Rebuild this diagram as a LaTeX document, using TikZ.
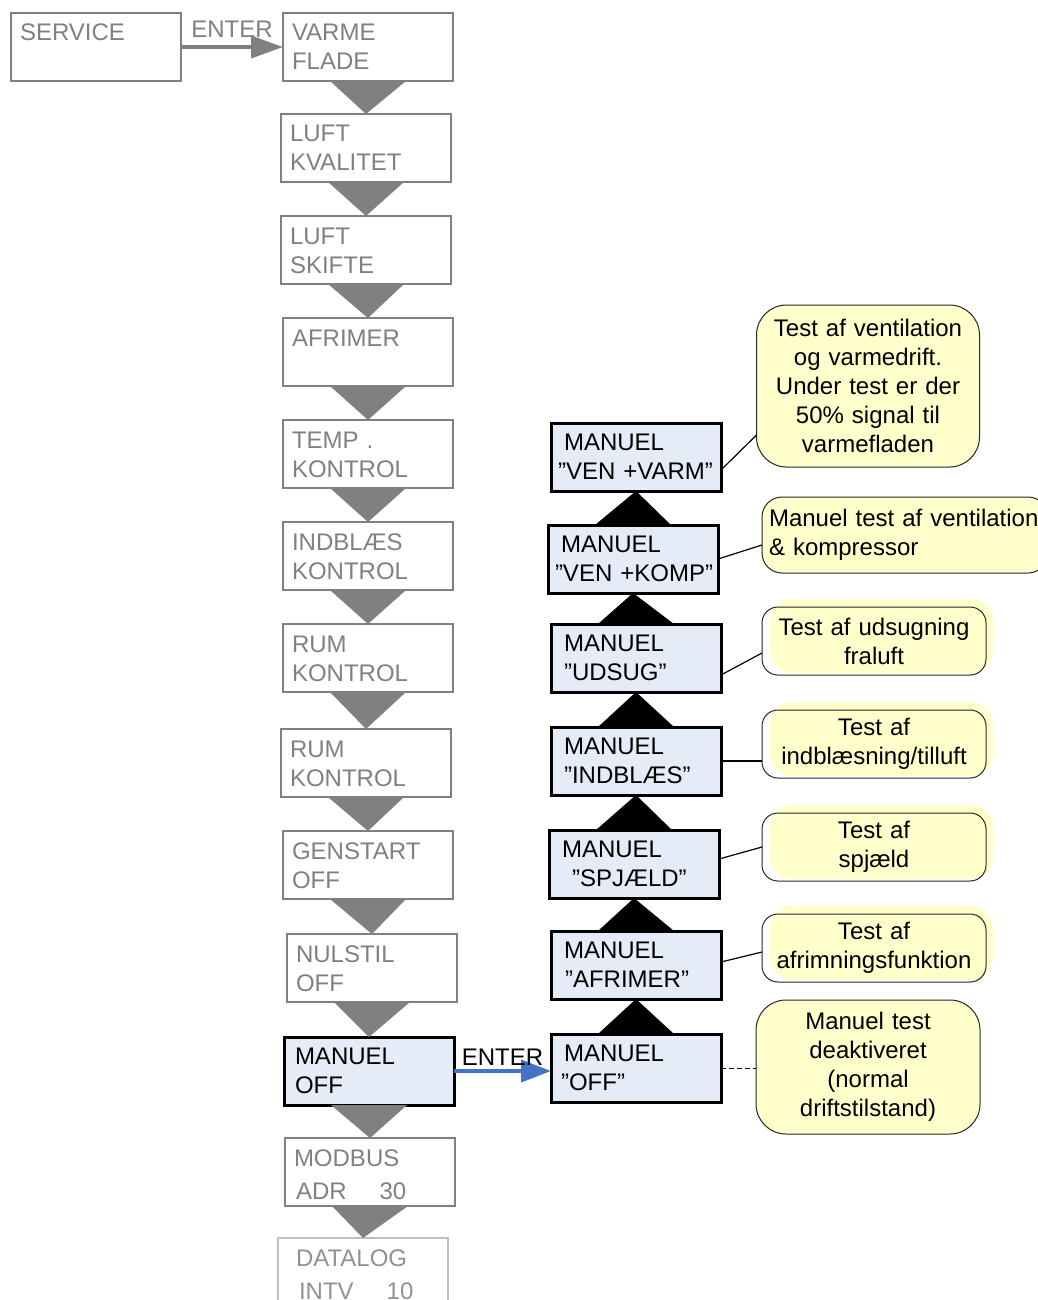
\documentclass[tikz,border=0pt]{standalone}
\usepackage{fontspec}
\setmainfont{Liberation Sans}
\usetikzlibrary{arrows.meta,positioning,calc,backgrounds}

\definecolor{menugrey}{RGB}{128,128,128}
\definecolor{fadegrey}{RGB}{191,191,191}
\definecolor{fadetext}{RGB}{145,145,145}
\definecolor{testblue}{RGB}{230,236,247}
\definecolor{noteyellow}{RGB}{255,255,204}
\definecolor{enterblue}{RGB}{68,114,196}

\tikzset{
  menubox/.style={rectangle, draw=menugrey, line width=2.5pt, text=menugrey,
    minimum width=170pt, minimum height=68pt, inner xsep=9pt, inner ysep=0pt,
    outer sep=0pt, text width=152pt, align=left, text height=28pt, text depth=40pt},
  fadebox/.style={menubox, draw=fadegrey, line width=1.5pt, text=fadetext},
  activebox/.style={menubox, draw=black, line width=3pt, fill=testblue, text=black,
    inner xsep=11pt, text width=148pt, text height=27pt, text depth=41pt},
  testbox/.style={activebox, inner xsep=13pt, text width=144pt},
  note/.style={rectangle, rounded corners=30pt, draw=black!85, line width=1pt,
    fill=noteyellow, align=center, inner xsep=0pt, inner ysep=0pt, outer sep=0pt,
    minimum height=68pt, text width=224pt},
  offnote/.style={note, fill=none, rounded corners=16pt},
  noteline/.style={line width=1.2pt},
  enterarrow/.style={line width=4pt, -{Triangle[length=32pt,width=22pt]}},
  enterlabel/.style={midway, inner sep=0pt, outer sep=0pt},
}

\begin{document}
\begin{tikzpicture}[x=1pt, y=-1pt, font=\fontsize{24}{29}\selectfont]
\useasboundingbox (0,0) rectangle (1037,1300);

% service menu
\node[menubox, anchor=north west] (service) at (11,13) {SERVICE};
\node[menubox, right=102pt of service] (varme) {VARME\\FLADE};
\node[menubox, below=33pt of varme, xshift=-2pt] (luftkval) {LUFT\\KVALITET};
\node[menubox, below=34pt of luftkval] (luftskift) {LUFT\\SKIFTE};
\node[menubox, below=34pt of luftskift, xshift=2pt] (afrimer) {AFRIMER};
\node[menubox, below=34pt of afrimer] (temp) {TEMP .\\KONTROL};
\node[menubox, below=34pt of temp] (indblaes) {INDBLÆS\\KONTROL};
\node[menubox, below=34pt of indblaes] (rum) {RUM\\KONTROL};
\node[menubox, below=37pt of rum, xshift=-2pt] (rumb) {RUM\\KONTROL};
\node[menubox, below=34pt of rumb, xshift=2pt] (genstart) {GENSTART\\OFF};
\node[menubox, below=35pt of genstart, xshift=4pt] (nulstil) {NULSTIL\\OFF};
\node[activebox, below=35pt of nulstil, xshift=-3pt] (manuel) {MANUEL\\OFF};
\node[menubox, below=33pt of manuel, xshift=1pt] (modbus) {MODBUS\\[4pt]\hspace*{2pt}ADR\hspace{33pt}30};
\node[fadebox, below=32pt of modbus, xshift=-7pt] (datalog) {\hspace*{9pt}DATALOG\\[4pt]\hspace*{12pt}INTV\hspace{33pt}10};

% manuel test menu
\node[testbox, right=97pt of manuel, yshift=3pt] (moff) {MANUEL\\\hspace*{-3pt}”OFF”};
\node[testbox, above=35pt of moff] (mafrimer) {MANUEL\\\hspace*{1pt}”AFRIMER”};
\node[testbox, above=33pt of mafrimer, xshift=-2pt] (mspjaeld) {MANUEL\\\hspace*{10pt}”SPJÆLD”};
\node[testbox, above=35pt of mspjaeld, xshift=2pt] (mindblaes) {MANUEL\\”INDBLÆS”};
\node[testbox, above=35pt of mindblaes] (mudsug) {MANUEL\\”UDSUG”};
\node[testbox, above=31pt of mudsug, xshift=-3pt] (mkomp) {MANUEL\\\hspace*{-6pt}\mbox{”VEN +KOMP”}};
\node[testbox, above=34pt of mkomp, xshift=3pt] (mvarm) {MANUEL\\\hspace*{-6pt}\mbox{”VEN +VARM”}};

% notes
\node[note, minimum height=162pt, text width=223pt] (nvarm) at (868,386)
  {Test af ventilation\\og varmedrift.\\Under test er der\\50\% signal til\\varmefladen};
\node[note, rounded corners=20pt, align=left, text width=272pt, inner xsep=7pt, minimum height=76pt] (nkomp) at (905,535)
  {\mbox{Manuel test af ventilation}\\\& kompressor};
\node[offnote] (nudsug) at (874,641) {Test af udsugning\\fraluft};
\node[offnote] (nindblaes) at (874,744) {Test af\\indblæsning/tilluft};
\node[offnote] (nspjaeld) at (874,847) {Test af\\spjæld};
\node[offnote] (nafrimer) at (874,948) {Test af\\afrimningsfunktion};
\node[note, minimum height=134pt, text width=224pt] (noff) at (868,1067)
  {Manuel test\\deaktiveret\\(normal\\driftstilstand)};

\begin{scope}[on background layer]
  \foreach \n in {nudsug,nindblaes,nspjaeld,nafrimer}
    \fill[noteyellow, rounded corners=22pt] ($(\n.north west)+(8,-8)$) rectangle ($(\n.south east)+(7,-2)$);
\end{scope}

% arrows between menu items
\foreach \a/\b in {varme/luftkval, luftkval/luftskift, luftskift/afrimer, afrimer/temp, temp/indblaes, indblaes/rum, rum/rumb, rumb/genstart, genstart/nulstil, nulstil/manuel, manuel/modbus, modbus/datalog}
  \fill[menugrey] ($(\a.south)+(-38,0)$) -- ($(\a.south)+(38,0)$) -- (\b.north) -- cycle;
\foreach \a/\b in {moff/mafrimer, mafrimer/mspjaeld, mspjaeld/mindblaes, mindblaes/mudsug, mudsug/mkomp, mkomp/mvarm}
  \fill ($(\a.north)+(-38,0)$) -- ($(\a.north)+(38,0)$) -- (\b.south) -- cycle;

\draw[enterarrow, menugrey] (service) -- node[enterlabel, above=9pt] {ENTER} (varme);
\draw[enterarrow, enterblue, -{Triangle[length=30pt,width=22pt]}] (manuel.east) -- node[enterlabel, above=6pt, text=black] {ENTER} (manuel.east -| moff.west);

% note lines
\draw[noteline] ($(mvarm.east)+(0,13)$) -- ($(nvarm.west)+(0,49)$);
\draw[noteline] (mkomp.east) -- ($(nkomp.west)+(0,10)$);
\draw[noteline] ($(mudsug.east)+(0,17)$) -- ($(nudsug.west)+(0,12)$);
\draw[noteline] (mindblaes.east) -- ($(nindblaes.west)+(0,17)$);
\draw[noteline] ($(mspjaeld.east)+(0,-5)$) -- (nspjaeld.west);
\draw[noteline] ($(mafrimer.east)+(0,-3)$) -- ($(nafrimer.west)+(0,4)$);
\draw[noteline, line width=1pt, dash pattern=on 5pt off 3pt] (moff.east) -- (moff.east -| noff.west);
\end{tikzpicture}
\end{document}
